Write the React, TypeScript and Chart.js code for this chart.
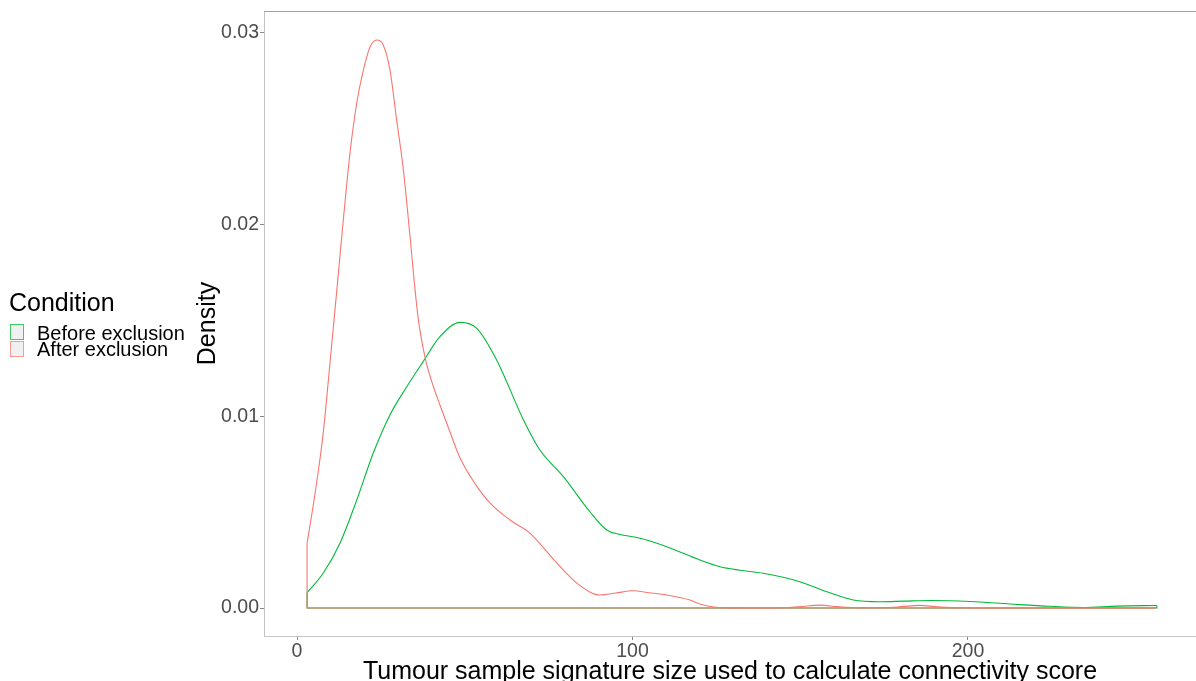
import React, { useEffect, useRef } from 'react';
import { Chart, registerables } from 'chart.js';

Chart.register(...registerables);

const FONT = "'Liberation Sans', Arial, Helvetica, sans-serif";
const RED = '#F8766D';
const GREEN = '#00BA38';

const xTicks = [0, 100, 200];
const yTicks = [0, 0.01, 0.02, 0.03];
const xTitle = 'Tumour sample signature size used to calculate connectivity score';
const yTitle = 'Density';
const legendTitle = 'Condition';
const seriesNames = ['Before exclusion', 'After exclusion'];

const beforeX = [3, 7.8, 12.8, 17.8, 22.7, 27.7, 32.7, 37.6, 42.6, 48.6, 53.6, 59.5, 67.5, 72.4, 79.4, 87.3, 92.3, 96, 102.2, 110.2, 120.1, 126.1, 132, 139, 149.9, 157.9, 165.8, 173.8, 181, 188.7, 200.6, 212.5, 224.4, 234.3, 244.4, 256.3];
const beforeY = [0.0008, 0.00181, 0.00338, 0.00563, 0.00807, 0.01007, 0.01154, 0.01285, 0.01415, 0.0149, 0.01459, 0.01294, 0.00981, 0.00824, 0.00685, 0.00502, 0.00407, 0.00385, 0.00364, 0.0032, 0.0025, 0.00215, 0.00197, 0.00181, 0.00137, 0.00085, 0.00042, 0.00033, 0.00036, 0.00039, 0.00034, 0.00021, 0.00009, 0.00003, 0.0001, 0.00013];

const afterX = [3, 5.4, 7.8, 9.8, 11.6, 13.8, 15.8, 17.8, 19.8, 21.8, 23.8, 25.7, 27.7, 29.7, 31.7, 33.7, 34.9, 36.1, 37.3, 38.7, 40.5, 42.6, 45.6, 48.6, 53, 57.5, 63.5, 69.4, 77.4, 83.4, 90.3, 95, 100.1, 105, 110.2, 117.1, 120.1, 126, 135, 145, 150, 155.9, 161, 168, 175, 180, 185.5, 191, 198, 210, 256];
const afterY = [0.00338, 0.006, 0.00911, 0.01273, 0.01607, 0.02024, 0.02374, 0.02634, 0.02807, 0.02928, 0.02963, 0.02937, 0.02807, 0.02546, 0.02285, 0.01935, 0.01711, 0.01513, 0.01382, 0.01268, 0.01163, 0.01059, 0.00918, 0.00782, 0.0065, 0.00548, 0.00459, 0.00391, 0.00235, 0.0013, 0.00068, 0.00078, 0.0009, 0.0008, 0.00068, 0.00042, 0.00021, 0.00002, 0, 0.00001, 0.00007, 0.00015, 0.00007, 0.00001, 0.00002, 0.00007, 0.00014, 0.00006, 0.00001, 0, 0];

const X_MIN = -9.84;
const X_MAX = 267.96;
const Y_MIN = -0.00146;
const Y_MAX = 0.03114;

const pts = (xs: number[], ys: number[]) => xs.map((x, i) => ({ x, y: ys[i] }));
const outline = (xs: number[], ys: number[]) => [
  { x: xs[xs.length - 1], y: ys[ys.length - 1] },
  { x: xs[xs.length - 1], y: 0 },
  { x: xs[0], y: 0 },
  { x: xs[0], y: ys[0] },
];

const topBorder = {
  id: 'topBorder',
  afterDraw(chart: any) {
    const { ctx, chartArea } = chart;
    ctx.save();
    ctx.strokeStyle = '#a0a0a0';
    ctx.lineWidth = 1;
    ctx.beginPath();
    ctx.moveTo(chartArea.left, chartArea.top + 0.5);
    ctx.lineTo(chartArea.right, chartArea.top + 0.5);
    ctx.stroke();
    ctx.restore();
  },
};

export default function App() {
  const ref = useRef<HTMLCanvasElement>(null);
  useEffect(() => {
    if (!ref.current) return;
    const lineBase = { pointRadius: 0, borderWidth: 1.1, fill: false };
    const chart = new Chart(ref.current, {
      type: 'line',
      data: {
        datasets: [
          { ...lineBase, label: seriesNames[1], data: pts(afterX, afterY), borderColor: RED, cubicInterpolationMode: 'monotone' },
          { ...lineBase, label: seriesNames[1] + ' outline', data: outline(afterX, afterY), borderColor: RED, tension: 0 },
          { ...lineBase, label: seriesNames[0], data: pts(beforeX, beforeY), borderColor: GREEN, cubicInterpolationMode: 'monotone' },
          { ...lineBase, label: seriesNames[0] + ' outline', data: outline(beforeX, beforeY), borderColor: GREEN, tension: 0 },
        ] as any,
      },
      options: {
        responsive: false,
        animation: false,
        layout: { padding: { left: 190, top: 11, right: 0, bottom: 0 } },
        plugins: { legend: { display: false }, tooltip: { enabled: false } },
        scales: {
          x: {
            type: 'linear',
            min: X_MIN,
            max: X_MAX,
            afterBuildTicks: (s: any) => { s.ticks = xTicks.map((v) => ({ value: v })); },
            afterFit: (s: any) => { s.height = 64; },
            grid: { drawOnChartArea: false, drawTicks: true, tickLength: 4, color: '#888888' },
            border: { display: true, color: '#c4c4c4', width: 1 },
            ticks: { color: '#4d4d4d', font: { family: FONT, size: 19.5 }, padding: 0, maxRotation: 0, autoSkip: false },
            title: { display: true, text: xTitle, color: '#000000', font: { family: FONT, size: 25 }, padding: { top: 0, bottom: 13 } },
          },
          y: {
            type: 'linear',
            min: Y_MIN,
            max: Y_MAX,
            afterBuildTicks: (s: any) => { s.ticks = yTicks.map((v) => ({ value: v })); },
            afterFit: (s: any) => { s.width = 74; },
            grid: { drawOnChartArea: false, drawTicks: true, tickLength: 4, color: '#888888' },
            border: { display: true, color: '#c4c4c4', width: 1 },
            ticks: { color: '#4d4d4d', font: { family: FONT, size: 19.5, lineHeight: 1 }, padding: 1, autoSkip: false, callback: (v: any) => Number(v).toFixed(2) },
            title: { display: true, text: yTitle, color: '#000000', font: { family: FONT, size: 25 }, padding: { top: 3, bottom: 0 } },
          },
        },
      } as any,
      plugins: [topBorder],
    });
    return () => chart.destroy();
  }, []);

  const keyStyle = (color: string, top: number): React.CSSProperties => ({
    position: 'absolute', left: 10, top, width: 14, height: 16, boxSizing: 'border-box',
    border: `1px solid ${color}`, background: '#ebebeb', opacity: 0.75,
  });
  const textStyle = (top: number, size: number, left: number): React.CSSProperties => ({
    position: 'absolute', left, top, fontFamily: FONT, fontSize: size, lineHeight: `${size}px`, color: '#000', whiteSpace: 'nowrap',
  });

  return (
    <div style={{ position: 'absolute', left: 0, top: 0, width: 1196, height: 681, overflow: 'hidden', background: '#fff' }}>
      <canvas ref={ref} width={1196} height={700} style={{ position: 'absolute', left: 0, top: 0, width: 1196, height: 700 }} />
      <div style={textStyle(289.8, 25, 9)}>{legendTitle}</div>
      <div style={keyStyle(GREEN, 324)} />
      <div style={keyStyle(RED, 341)} />
      <div style={textStyle(323.3, 20, 37)}>{seriesNames[0]}</div>
      <div style={textStyle(339.2, 20, 37)}>{seriesNames[1]}</div>
    </div>
  );
}
